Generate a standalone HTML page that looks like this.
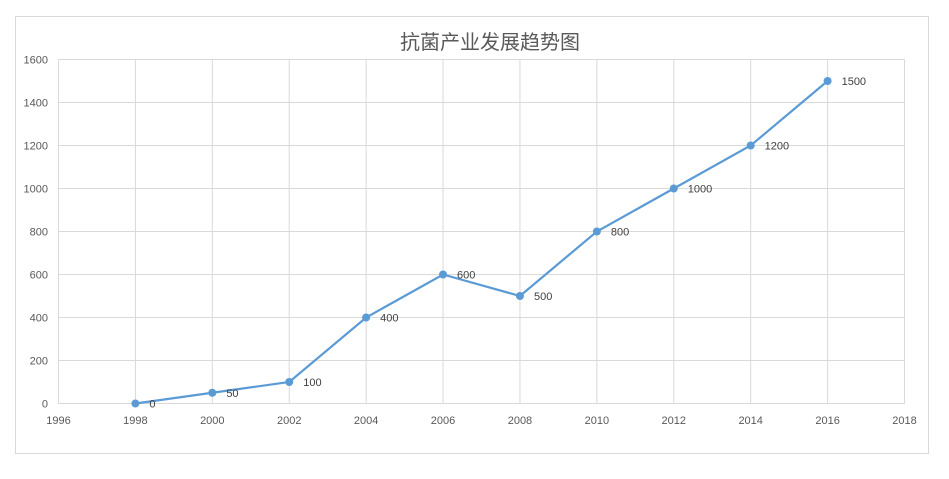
<!DOCTYPE html>
<html><head><meta charset="utf-8"><style>
body{margin:0;background:#fff;}
svg text{font-family:"Liberation Sans","Noto Sans CJK SC",sans-serif;}
</style></head><body>
<svg width="949" height="474" xmlns="http://www.w3.org/2000/svg">
<rect x="15.5" y="16.5" width="913" height="437" fill="#fff" stroke="#d9d9d9"/>
<text x="490" y="49" text-anchor="middle" font-size="20" font-weight="normal" fill="#595959">抗菌产业发展趋势图</text>
<g id="grid"></g><g id="axes"></g><g id="series"></g>
</svg>
<script>
const years=[1998,2000,2002,2004,2006,2008,2010,2012,2014,2016];
const values=[0,50,100,400,600,500,800,1000,1200,1500];
const xTicks=[1996,1998,2000,2002,2004,2006,2008,2010,2012,2014,2016,2018];
const yTicks=[0,200,400,600,800,1000,1200,1400,1600];
const NS='http://www.w3.org/2000/svg';
const L=58.5,R=904.5,T=59.5,B=403.5;
const xS=v=>L+(v-1996)/(2018-1996)*(R-L);
const yS=v=>B-v/1600*(B-T);
function mk(t,a,p){const e=document.createElementNS(NS,t);for(const k in a)e.setAttribute(k,a[k]);p.appendChild(e);return e;}
const g=document.getElementById('grid'),ax=document.getElementById('axes'),s=document.getElementById('series');
yTicks.forEach(v=>{
 const l=mk('line',{x1:L,x2:R,y1:yS(v),y2:yS(v),stroke:'#d9d9d9'},g);
 
 
 const t=mk('text',{x:48,y:yS(v)+4,'text-anchor':'end','font-size':11,fill:'#595959'},ax);t.textContent=v;
 
 
});
xTicks.forEach(v=>{
 const l=mk('line',{x1:xS(v),x2:xS(v),y1:T,y2:B,stroke:'#d9d9d9'},g);
 
 
 const t=mk('text',{x:xS(v),y:424,'text-anchor':'middle','font-size':11,fill:'#595959'},ax);t.textContent=v;
 
 
});
const pl=mk('polyline',{points:years.map((y,i)=>xS(y)+','+yS(values[i])).join(' '),fill:'none',stroke:'#5b9bd5','stroke-width':2.2},s);


years.forEach((y,i)=>{
 const c=mk('circle',{cx:xS(y),cy:yS(values[i]),r:4,fill:'#5b9bd5'},s);
 
 
 const t=mk('text',{x:xS(y)+14,y:yS(values[i])+4,'font-size':11,fill:'#404040'},s);t.textContent=values[i];
 
 
});
</script>
</body></html>
